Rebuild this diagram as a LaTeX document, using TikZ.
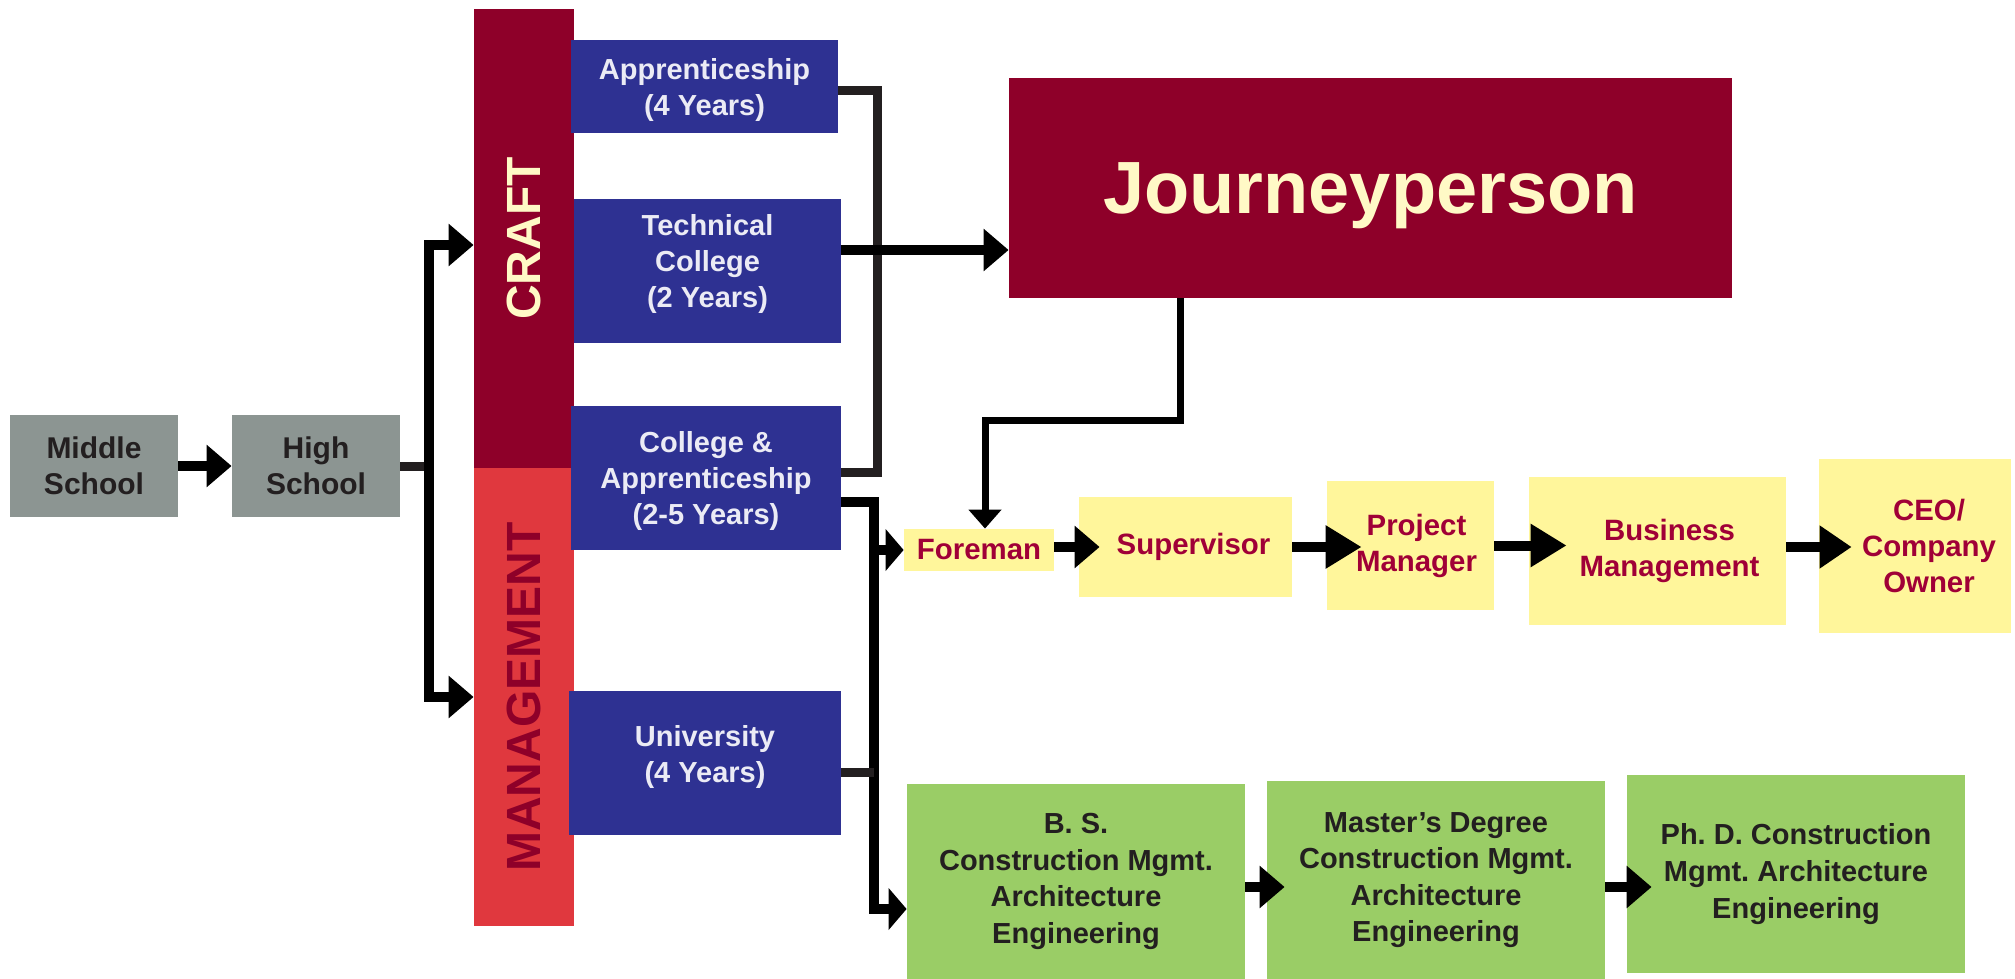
\documentclass[tikz,border=0pt]{standalone}
\usepackage{fontspec}
\setmainfont{Liberation Sans}
\usepackage{graphicx}
\usepackage{xcolor}
\usetikzlibrary{arrows.meta}
\definecolor{crimson}{RGB}{142,0,41}
\definecolor{redbar}{RGB}{224,56,62}
\definecolor{navy}{RGB}{46,49,146}
\definecolor{paleblue}{RGB}{235,235,245}
\definecolor{ylw}{RGB}{255,246,155}
\definecolor{ylwtext}{RGB}{160,0,55}
\definecolor{grn}{RGB}{154,205,102}
\definecolor{gry}{RGB}{140,149,146}
\definecolor{ink}{RGB}{35,31,32}
\definecolor{cream}{RGB}{255,249,198}
\newcommand{\pushr}[1]{\hspace*{#1}}
\frenchspacing
\tikzset{
  box/.style 2 args={rectangle, inner sep=0pt, minimum width=#1*0.5pt,
    minimum height=#2*0.5pt, align=center,
    font=\bfseries\fontsize{14.5}{18}\selectfont},
  grybox/.style={fill=gry, text=ink, font=\bfseries\fontsize{15}{18}\selectfont},
  blubox/.style={fill=navy, text=paleblue},
  ylwbox/.style={fill=ylw, text=ylwtext, font=\bfseries\fontsize{14.7}{18}\selectfont},
  grnbox/.style={fill=grn, text=ink, font=\bfseries\fontsize{14.5}{18.3}\selectfont},
  lnk/.style={line width=4.5pt, draw=ink},
  arr/.style={line width=5pt, draw=black, -{Triangle[length=#1,width=20.5pt]}},
  arr/.default=12.5pt,
  arrsm/.style={line width=3.5pt, draw=black, -{Triangle[length=9.5pt,width=16pt]}}
}
\begin{document}
\begin{tikzpicture}[x=0.5pt,y=-0.5pt]
  \useasboundingbox (0,0) rectangle (2015,979);
  % schools
  \node[box={168}{102},grybox] (mid) at (94,466) {Middle\\School};
  \node[box={168}{102},grybox] (high) at (316,466) {High\\School};
  % side bars
  \node[box={100}{459},fill=crimson,text=cream,font=\bfseries\fontsize{24}{28}\selectfont] (craft) at (524,238.5) {\rotatebox{90}{CRAFT}};
  \node[box={100}{458},fill=redbar,text=crimson,font=\bfseries\fontsize{24}{28}\selectfont] (mgmt) at (524,697) {\rotatebox{90}{MANAGEMENT}};
  % training
  \node[box={267}{93},blubox,text depth=0pt] (appr) at (704.5,86.5) {Apprenticeship\\(4 Years)};
  \node[box={267}{144},blubox,text depth=10pt] (tech) at (707.5,271) {Technical\\College\\(2 Years)};
  \node[box={270}{144},blubox,text depth=0pt] (colapp) at (706,478) {College \&\\Apprenticeship\\(2-5 Years)};
  \node[box={272}{144},blubox,text depth=9pt] (univ) at (705,763) {University\\(4 Years)};
  \node[box={723}{220},fill=crimson,text=cream,font=\bfseries\fontsize{37}{44}\selectfont,text depth=0pt] (journey) at (1370.5,188) {Journeyperson};
  % career ladder
  \node[box={150}{42},ylwbox] (fore) at (979,550) {Foreman};
  \node[box={213}{100},ylwbox] (super) at (1185.5,547) {\pushr{8pt}Supervisor};
  \node[box={167}{129},ylwbox] (pm) at (1410.5,545.5) {\pushr{6pt}Project\\\pushr{6pt}Manager};
  \node[box={257}{148},ylwbox] (bm) at (1657.5,551) {\pushr{12pt}Business\\\pushr{12pt}Management};
  \node[box={192}{174},ylwbox] (ceo) at (1915,546) {\pushr{14pt}CEO/\\\pushr{14pt}Company\\\pushr{14pt}Owner};
  % degrees
  \node[box={338}{195},grnbox] (bs) at (1076,881.5) {B. S.\\Construction Mgmt.\\Architecture\\Engineering};
  \node[box={338}{198},grnbox] (ms) at (1436,880) {Master’s Degree\\Construction Mgmt.\\Architecture\\Engineering};
  \node[box={338}{198},grnbox] (phd) at (1796,874) {Ph. D. Construction\\Mgmt. Architecture\\Engineering};
  % connectors
  \coordinate (split) at (429,466);
  \coordinate (fork) at (874,700);
  \coordinate (jbend) at (1180,420);
  \draw[arr] (mid) -- (high);
  \draw[lnk] (high.east) -- (split);
  \draw[arr] (split) |- ([yshift=-3.25pt]craft.west);
  \draw[arr] (split) |- (mgmt.west);
  \draw[lnk] ([yshift=-2.25pt]appr.east) -- ++(39,0) |- ([yshift=3pt]colapp.east);
  \draw[arr] ([yshift=10.5pt]tech.east) -- ([yshift=10.5pt]tech.east -| journey.west);
  \draw[arrsm] (journey.south -| jbend) -- (jbend) -| ([xshift=3pt]fore.north);
  \draw[arr=9pt] ([yshift=-12pt]colapp.east) -| (fork) |- ([yshift=-13.75pt]bs.west);
  \draw[arr=9pt] (fork |- fore.west) -- (fore.west);
  \draw[lnk] ([yshift=-4.5pt]univ.east) -- ([yshift=-4.5pt]univ.east -| fork);
  \draw[arr] ([yshift=1.5pt]fore.east) -- ([xshift=10.5pt,yshift=1.5pt]fore.east -| super.west);
  \draw[arr=18pt] (super.east) -- ([xshift=17.5pt]super.east -| pm.west);
  \draw[arr=18pt] (pm.east) -- ([xshift=19pt]pm.east -| bm.west);
  \draw[arr=16pt] ([yshift=2pt]bm.east) -- ([xshift=16.5pt,yshift=2pt]bm.east -| ceo.west);
  \draw[arr] ([yshift=-2.75pt]bs.east) -- ([xshift=9pt,yshift=-2.75pt]bs.east -| ms.west);
  \draw[arr] ([yshift=-3.5pt]ms.east) -- ([xshift=12.5pt,yshift=-3.5pt]ms.east -| phd.west);
\end{tikzpicture}
\end{document}
